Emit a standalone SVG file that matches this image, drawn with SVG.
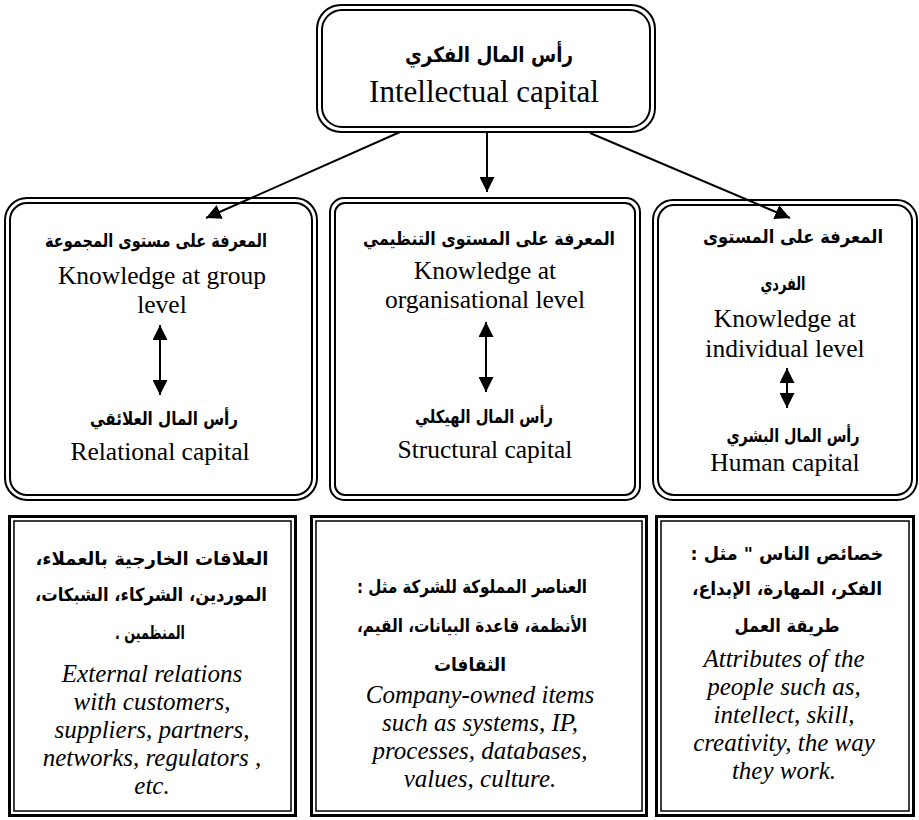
<svg xmlns="http://www.w3.org/2000/svg" width="919" height="820" viewBox="0 0 919 820">
<style>
.bg{fill:#fff}
.rb{fill:none;stroke:#000;stroke-width:2}
.ob{fill:none;stroke:#000;stroke-width:3}
.ib{fill:none;stroke:#000;stroke-width:1.5}
.ar{font-family:"DejaVu Sans",sans-serif;font-weight:bold;font-size:18px;fill:#000;text-anchor:middle;direction:rtl}
.en{font-family:"Liberation Serif","Times New Roman",serif;font-size:25.5px;fill:#000;text-anchor:middle}
.it{font-family:"Liberation Serif","Times New Roman",serif;font-size:25px;font-style:italic;fill:#000;text-anchor:middle}
.ttl{font-size:31px}
.cn{fill:none;stroke:#000;stroke-width:2}
</style>
<defs>
<marker id="ah" viewBox="0 0 15 15" refX="15" refY="7.5" markerWidth="15" markerHeight="15" markerUnits="userSpaceOnUse" orient="auto-start-reverse">
<path d="M0,0 L15,7.5 L0,15 z" fill="#000"/>
</marker>
</defs>
<rect class="bg" x="0" y="0" width="919" height="820"/>

<g id="connectors">
<line class="cn" x1="400" y1="132" x2="206" y2="218" marker-end="url(#ah)"/>
<line class="cn" x1="487" y1="133" x2="487" y2="192" marker-end="url(#ah)"/>
<line class="cn" x1="590" y1="133" x2="790" y2="218" marker-end="url(#ah)"/>
<line class="cn" x1="160" y1="325" x2="160" y2="395" marker-start="url(#ah)" marker-end="url(#ah)"/>
<line class="cn" x1="486" y1="322" x2="486" y2="392" marker-start="url(#ah)" marker-end="url(#ah)"/>
<line class="cn" x1="787" y1="368" x2="787" y2="408" marker-start="url(#ah)" marker-end="url(#ah)"/>
</g>

<g id="intellectual-capital">
<rect class="rb" x="317" y="5" width="338" height="127" rx="24"/>
<rect class="rb" x="322" y="10" width="328" height="117" rx="20"/>
<text class="ar" x="489" y="62" style="font-size:21px" textLength="168" lengthAdjust="spacingAndGlyphs">رأس المال الفكري</text>
<text class="en ttl" x="484" y="102">Intellectual capital</text>
</g>

<g id="group-level">
<rect class="rb" x="5" y="198" width="312" height="302" rx="22"/>
<rect class="rb" x="10" y="203" width="302" height="292" rx="17"/>
<text class="ar" x="156" y="247" textLength="222" lengthAdjust="spacingAndGlyphs">المعرفة على مستوى المجموعة</text>
<text class="en" x="162" y="284">Knowledge at group</text>
<text class="en" x="162" y="313">level</text>
<text class="ar" x="164" y="425" textLength="148" lengthAdjust="spacingAndGlyphs">رأس المال العلائقي</text>
<text class="en" x="160" y="460">Relational capital</text>
</g>

<g id="organisational-level">
<rect class="rb" x="330" y="198" width="310" height="302" rx="14"/>
<rect class="rb" x="335" y="203" width="300" height="292" rx="10"/>
<text class="ar" x="489" y="245" textLength="252" lengthAdjust="spacingAndGlyphs">المعرفة على المستوى التنظيمي</text>
<text class="en" x="485" y="279">Knowledge at</text>
<text class="en" x="485" y="308">organisational level</text>
<text class="ar" x="484" y="423" textLength="138" lengthAdjust="spacingAndGlyphs">رأس المال الهيكلي</text>
<text class="en" x="485" y="458">Structural capital</text>
</g>

<g id="individual-level">
<rect class="rb" x="653" y="200" width="264" height="300" rx="20"/>
<rect class="rb" x="658" y="205" width="254" height="290" rx="16"/>
<text class="ar" x="793" y="243" textLength="180" lengthAdjust="spacingAndGlyphs">المعرفة على المستوى</text>
<text class="ar" x="783" y="290" textLength="45" lengthAdjust="spacingAndGlyphs">الفردي</text>
<text class="en" x="785" y="327">Knowledge at</text>
<text class="en" x="785" y="357">individual level</text>
<text class="ar" x="793" y="442" textLength="133" lengthAdjust="spacingAndGlyphs">رأس المال البشري</text>
<text class="en" x="785" y="471">Human capital</text>
</g>

<g id="relational-items">
<rect class="ob" x="9.5" y="516.5" width="286" height="299"/>
<rect class="ib" x="14" y="521" width="277" height="290"/>
<text class="ar" x="152" y="565" textLength="233" lengthAdjust="spacingAndGlyphs">العلاقات الخارجية بالعملاء،</text>
<text class="ar" x="151" y="601" textLength="232" lengthAdjust="spacingAndGlyphs">الموردين، الشركاء، الشبكات،</text>
<text class="ar" x="150" y="639" textLength="70" lengthAdjust="spacingAndGlyphs">المنظمين .</text>
<text class="it" x="152" y="682">External relations</text>
<text class="it" x="152" y="710">with customers,</text>
<text class="it" x="152" y="738">suppliers, partners,</text>
<text class="it" x="152" y="766">networks, regulators ,</text>
<text class="it" x="152" y="794">etc.</text>
</g>

<g id="structural-items">
<rect class="ob" x="311.5" y="516.5" width="335" height="299"/>
<rect class="ib" x="316" y="521" width="326" height="290"/>
<text class="ar" x="472" y="593" textLength="230" lengthAdjust="spacingAndGlyphs">العناصر المملوكة للشركة مثل :</text>
<text class="ar" x="472" y="632" textLength="230" lengthAdjust="spacingAndGlyphs">الأنظمة، قاعدة البيانات، القيم،</text>
<text class="ar" x="470" y="671" textLength="72" lengthAdjust="spacingAndGlyphs">الثقافات</text>
<text class="it" x="480" y="703">Company-owned items</text>
<text class="it" x="480" y="731">such as systems, IP,</text>
<text class="it" x="480" y="759">processes, databases,</text>
<text class="it" x="480" y="787">values, culture.</text>
</g>

<g id="human-items">
<rect class="ob" x="656.5" y="516.5" width="257" height="299"/>
<rect class="ib" x="661" y="521" width="248" height="290"/>
<text class="ar" x="787" y="560" textLength="193" lengthAdjust="spacingAndGlyphs">خصائص الناس " مثل :</text>
<text class="ar" x="787" y="595" textLength="190" lengthAdjust="spacingAndGlyphs">الفكر، المهارة، الإبداع،</text>
<text class="ar" x="787" y="632" textLength="105" lengthAdjust="spacingAndGlyphs">طريقة العمل</text>
<text class="it" x="784" y="667">Attributes of the</text>
<text class="it" x="784" y="695">people such as,</text>
<text class="it" x="784" y="723">intellect, skill,</text>
<text class="it" x="784" y="751">creativity, the way</text>
<text class="it" x="784" y="779">they work.</text>
</g>
</svg>
